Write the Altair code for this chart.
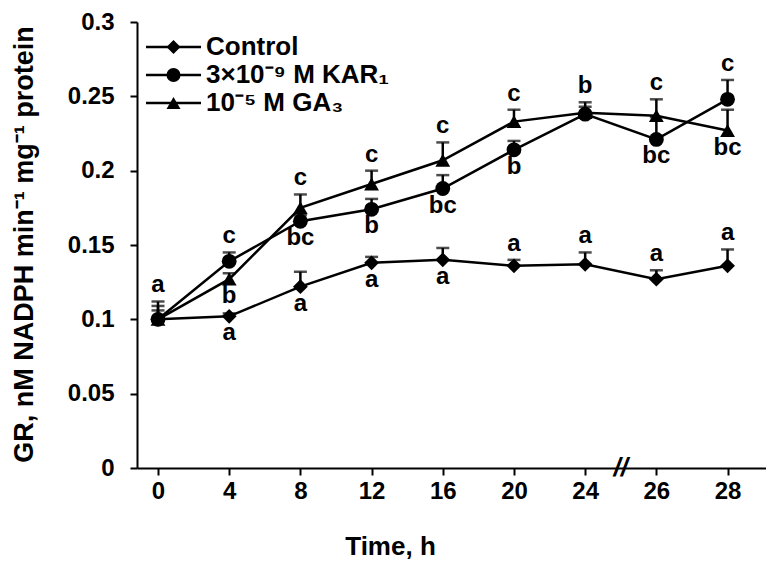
import altair as alt
import pandas as pd

# ---- data ----
times = ["0", "4", "8", "12", "16", "20", "24", "26", "28"]
series_names = ["Control", "3×10⁻⁹ M  KAR₁", "10⁻⁵ M  GA₃"]

control = [0.100, 0.102, 0.122, 0.138, 0.140, 0.136, 0.137, 0.127, 0.136]
control_err = [0.006, 0.002, 0.010, 0.004, 0.008, 0.004, 0.008, 0.006, 0.011]
control_letters = ["", "a", "a", "a", "a", "a", "a", "a", "a"]
control_place = ["", "below", "below", "below", "below", "above", "above", "above", "above"]

kar = [0.100, 0.139, 0.166, 0.174, 0.188, 0.214, 0.238, 0.221, 0.248]
kar_err = [0.012, 0.006, 0.004, 0.007, 0.009, 0.006, 0.005, 0.015, 0.013]
kar_letters = ["a", "c", "bc", "b", "bc", "b", "", "bc", "c"]
kar_place = ["above", "above", "below", "below", "below", "below", "", "below", "above"]

ga = [0.100, 0.127, 0.175, 0.191, 0.207, 0.233, 0.239, 0.237, 0.227]
ga_err = [0.009, 0.004, 0.009, 0.009, 0.012, 0.008, 0.007, 0.011, 0.014]
ga_letters = ["", "b", "c", "c", "c", "c", "b", "c", "bc"]
ga_place = ["", "below", "above", "above", "above", "above", "above", "above", "below"]

y_ticks = [0, 0.05, 0.1, 0.15, 0.2, 0.25, 0.3]
break_after = "24"

FONT = "Liberation Sans"

rows = []
for name, means, errs, letters, places in [
    (series_names[0], control, control_err, control_letters, control_place),
    (series_names[1], kar, kar_err, kar_letters, kar_place),
    (series_names[2], ga, ga_err, ga_letters, ga_place),
]:
    for i, t in enumerate(times):
        rows.append(dict(series=name, idx=i, time=t, mean=means[i],
                         upper=means[i] + errs[i], letter=letters[i], place=places[i]))
df = pd.DataFrame(rows)

brk = pd.DataFrame({"idx": [times.index(break_after) + 0.5], "v": [0.0], "txt": ["//"]})

xscale = alt.Scale(domain=[-0.295, 8.54], nice=False, zero=False)
yscale = alt.Scale(domain=[0, 0.3], nice=False, zero=True)

x_enc = alt.X("idx:Q", scale=xscale, axis=alt.Axis(
    values=list(range(len(times))),
    labelExpr=f"{times}[datum.value]",
    title="Time, h", titleX=253, titleY=86, titleBaseline="alphabetic",
    titleAnchor="start", titleAlign="center",
    labelPadding=4, tickSize=7))
y_enc = alt.Y("mean:Q", scale=yscale, axis=alt.Axis(
    values=y_ticks, format="~g",
    title="GR, nM NADPH min⁻¹ mg⁻¹ protein",
    titleX=-113, titleY=222, titleAngle=270, titleAlign="center",
    titleBaseline="middle", titleFontSize=27, titleLimit=800,
    labelPadding=16, tickSize=7))

base = alt.Chart(df)

LEG_X = 23.5
LEG_Y = 12
LEG_COMMON = dict(title=None, orient="none", legendX=LEG_X, legendY=LEG_Y,
                  labelFont=FONT, labelFontSize=26, labelFontWeight="bold",
                  labelColor="black", labelLimit=600, symbolSize=196,
                  labelOffset=19.5, padding=0, rowPadding=2)

lines = base.mark_line(color="black", strokeWidth=2.5).encode(
    x=x_enc, y=y_enc, detail="series:N")

err_rules = base.mark_rule(color="black", strokeWidth=2.5).encode(
    x="idx:Q", y="mean:Q", y2="upper:Q")

caps = base.mark_tick(color="black", orient="horizontal", size=13, thickness=2.5).encode(
    x="idx:Q", y="upper:Q")

points = base.mark_point(filled=True, color="black", opacity=1, size=220).encode(
    x="idx:Q", y="mean:Q",
    shape=alt.Shape("series:N", sort=series_names,
                    scale=alt.Scale(domain=series_names,
                                    range=["diamond", "circle", "triangle-up"]),
                    legend=alt.Legend(symbolFillColor="black", symbolStrokeColor="black",
                                      symbolOpacity=1, **LEG_COMMON)))

# legend line segments drawn through the legend markers
# (a distinct domain keeps Vega-Lite from merging it with the marker legend)
line_keys = [s + " " for s in series_names]
legend_lines = base.transform_filter("false").transform_calculate(
    series_line="datum.series + ' '").mark_line(strokeWidth=2.5).encode(
    x="idx:Q", y="mean:Q",
    color=alt.Color("series_line:N", sort=line_keys,
                    scale=alt.Scale(domain=line_keys, range=["black", "black", "black"]),
                    legend=alt.Legend(symbolType="M-3.93,0H3.93", symbolStrokeWidth=2.5,
                                      symbolStrokeColor="black", labelOpacity=0,
                                      **LEG_COMMON)))

above = base.transform_filter("datum.place == 'above'").mark_text(
    font=FONT, fontSize=24, fontWeight="bold", color="black",
    baseline="alphabetic", align="center", dy=-9).encode(
    x="idx:Q", y="upper:Q", text="letter:N")

below = base.transform_filter("datum.place == 'below'").mark_text(
    font=FONT, fontSize=24, fontWeight="bold", color="black",
    baseline="alphabetic", align="center", dy=24).encode(
    x="idx:Q", y="mean:Q", text="letter:N")

brk_mark = alt.Chart(brk).mark_text(
    font=FONT, fontSize=26, fontWeight="bold", fontStyle="italic",
    color="black", baseline="middle", align="center").encode(
    x="idx:Q", y="v:Q", text="txt:N")

chart = alt.layer(lines, err_rules, caps, legend_lines, points, above, below, brk_mark).properties(
    width=629, height=446,
    autosize=alt.AutoSizeParams(type="none"),
    padding={"left": 129, "top": 14, "right": 0, "bottom": 94},
).configure_view(stroke=None).configure_axis(
    grid=False, domainColor="black", domainWidth=2, tickColor="black", tickWidth=2,
    labelFont=FONT, labelFontSize=24, labelFontWeight="bold", labelColor="black",
    titleFont=FONT, titleFontSize=26, titleFontWeight="bold", titleColor="black",
)

chart.save("out.html", embed_options={"renderer": "svg", "actions": False})
